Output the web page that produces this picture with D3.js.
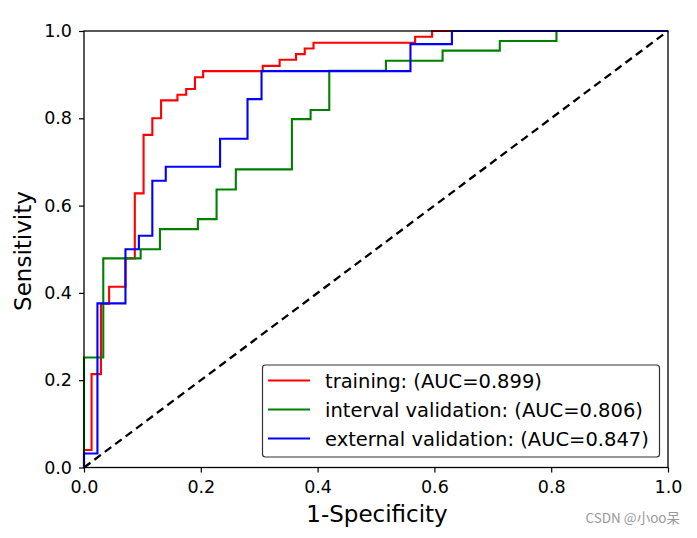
<!DOCTYPE html>
<html><head><meta charset="utf-8">
<script src="https://cdn.jsdelivr.net/npm/d3@7/dist/d3.min.js"></script>
<style>body{margin:0;background:#fff}svg{display:block}</style>
</head><body>
<svg id="c" width="697" height="538"></svg>
<script>
const seriesNames = ["training: (AUC=0.899)", "interval validation: (AUC=0.806)", "external validation: (AUC=0.847)"];
const seriesColors = ["#ff0000", "#008000", "#0000ff"];
const trainFpr = [0,0,0.013,0.029,0.043,0.071,0.087,0.102,0.117,0.132,0.160,0.175,0.190,0.204,0.306,0.335,0.363,0.378,0.393,0.567,0.596,1];
const trainTpr = [0,0.040,0.214,0.375,0.414,0.479,0.628,0.762,0.800,0.841,0.854,0.867,0.894,0.908,0.920,0.934,0.947,0.960,0.973,0.987,1,1];
const intFpr = [0,0,0.033,0.097,0.130,0.195,0.227,0.260,0.356,0.388,0.420,0.517,0.614,0.712,0.809,1];
const intTpr = [0,0.252,0.479,0.500,0.546,0.569,0.637,0.683,0.798,0.819,0.909,0.932,0.955,0.977,1,1];
const extFpr = [0,0,0.023,0.071,0.094,0.117,0.140,0.233,0.280,0.304,0.559,0.630,1];
const extTpr = [0,0.032,0.376,0.500,0.531,0.657,0.689,0.753,0.844,0.908,0.970,1,1];
const tickValues = [0,0.2,0.4,0.6,0.8,1.0];

const svg = d3.select("#c");
const L = 84, R = 668, T = 31, B = 467.5;
const x = d3.scaleLinear().domain([0,1]).range([L,R]);
const y = d3.scaleLinear().domain([0,1]).range([B,T]);
const font = "DejaVu Sans, sans-serif";

const curves = [[trainFpr,trainTpr],[intFpr,intTpr],[extFpr,extTpr]];
const line = d3.line().x(d=>x(d[0])).y(d=>y(d[1])).curve(d3.curveStepAfter);

svg.append("path").attr("d", d3.line().x(d=>x(d)).y(d=>y(d))([0,1]))
  .attr("stroke","#000").attr("stroke-width",2.3).attr("stroke-dasharray","8,5").attr("fill","none");

curves.forEach((c,i)=>{
  const pts = c[0].map((v,j)=>[v,c[1][j]]);
  svg.append("path").attr("d", line(pts)).attr("fill","none")
    .attr("stroke", seriesColors[i]).attr("stroke-width",2.1);
});

// axes
const xa = svg.append("g").attr("transform",`translate(0,${B})`)
  .call(d3.axisBottom(x).tickValues(tickValues).tickFormat(d3.format(".1f")).tickSize(5).tickPadding(8));
const ya = svg.append("g").attr("transform",`translate(${L},0)`)
  .call(d3.axisLeft(y).tickValues(tickValues).tickFormat(d3.format(".1f")).tickSize(5).tickPadding(7));
[xa,ya].forEach(a=>{
  a.select(".domain").remove();
  a.selectAll("line").attr("stroke","#000").attr("stroke-width",1.2);
  a.selectAll("text").attr("font-family",font).attr("font-size",17.5).attr("fill","#000");
});
svg.append("rect").attr("x",L).attr("y",T).attr("width",R-L).attr("height",B-T)
  .attr("fill","none").attr("stroke","#000").attr("stroke-width",1.3);

svg.append("text").attr("x",377).attr("y",522).attr("text-anchor","middle")
  .attr("font-family",font).attr("font-size",23).text("1-Specificity");
svg.append("text").attr("transform",`translate(31,251) rotate(-90)`).attr("text-anchor","middle")
  .attr("font-family",font).attr("font-size",23).text("Sensitivity");

// legend
const lg = svg.append("g");
lg.append("rect").attr("x",262.5).attr("y",365).attr("width",397).attr("height",92).attr("rx",3)
  .attr("fill","#fff").attr("stroke","#333").attr("stroke-width",1.2);
seriesNames.forEach((n,i)=>{
  const yy = 380.5 + i*29;
  lg.append("line").attr("x1",268).attr("x2",310).attr("y1",yy).attr("y2",yy)
    .attr("stroke",seriesColors[i]).attr("stroke-width",2.1);
  lg.append("text").attr("x",325).attr("y",yy+7.5).attr("font-family",font).attr("font-size",19.5).text(n);
});

svg.append("text").attr("x",680).attr("y",523).attr("text-anchor","end")
  .attr("font-family","Noto Sans CJK SC, sans-serif").attr("font-size",13.5).attr("fill","#999")
  .text("CSDN @小oo呆");
</script>
</body></html>
